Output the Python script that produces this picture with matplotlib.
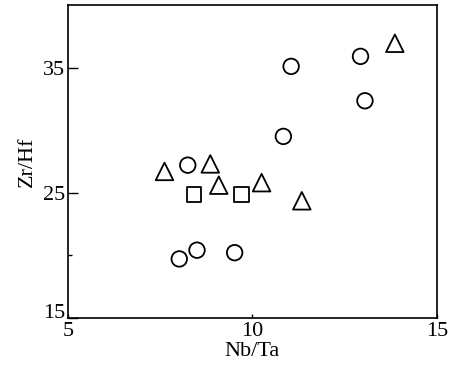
import matplotlib
matplotlib.use("Agg")
import matplotlib.pyplot as plt

# Nb/Ta vs Zr/Hf, three sample groups
circle_x = [8.25, 11.05, 12.93, 13.05, 10.84, 8.02, 8.50, 9.52]
circle_y = [27.2, 35.1, 35.9, 32.35, 29.5, 19.7, 20.4, 20.2]
tri_x = [7.62, 8.86, 9.09, 10.25, 11.34, 13.86]
tri_y = [26.7, 27.3, 25.6, 25.8, 24.35, 36.95]
sq_x = [8.42, 9.70]
sq_y = [24.85, 24.85]

x_ticks = [5, 10, 15]
y_ticks = [15, 25, 35]

plt.rcParams["font.family"] = ["Liberation Serif", "DejaVu Serif"]

fig = plt.figure(figsize=(4.58, 3.66), dpi=100)
ax = fig.add_axes([0.148, 0.132, 0.806, 0.854])

mk = dict(facecolor="none", edgecolor="black", linewidths=1.3, zorder=3)
ax.scatter(circle_x, circle_y, marker="o", s=125, **mk)
ax.scatter(tri_x, tri_y, marker="^", s=160, **mk)
ax.scatter(sq_x, sq_y, marker="s", s=115, **mk)

ax.set_xlim(5, 15)
ax.set_ylim(15, 40)
ax.set_xticks(x_ticks)
ax.set_yticks(y_ticks)
ax.set_yticks([20], minor=True)
ax.tick_params(axis="both", which="both", direction="in", labelsize=16, width=1.0)
ax.tick_params(axis="y", which="major", length=7, pad=2)
ax.tick_params(axis="x", which="major", length=3, pad=3)
ax.tick_params(axis="y", which="minor", length=3)
for s in ax.spines.values():
    s.set_linewidth(1.2)

# the "15" on the y axis sits a little above the corner, as in the source
for lab in ax.get_yticklabels():
    if lab.get_text() == "15":
        lab.set_verticalalignment("baseline")

ax.set_xlabel("Nb/Ta", fontsize=16, labelpad=1)
ax.set_ylabel("Zr/Hf", fontsize=16, labelpad=4)

fig.savefig("out.png", dpi=100)
